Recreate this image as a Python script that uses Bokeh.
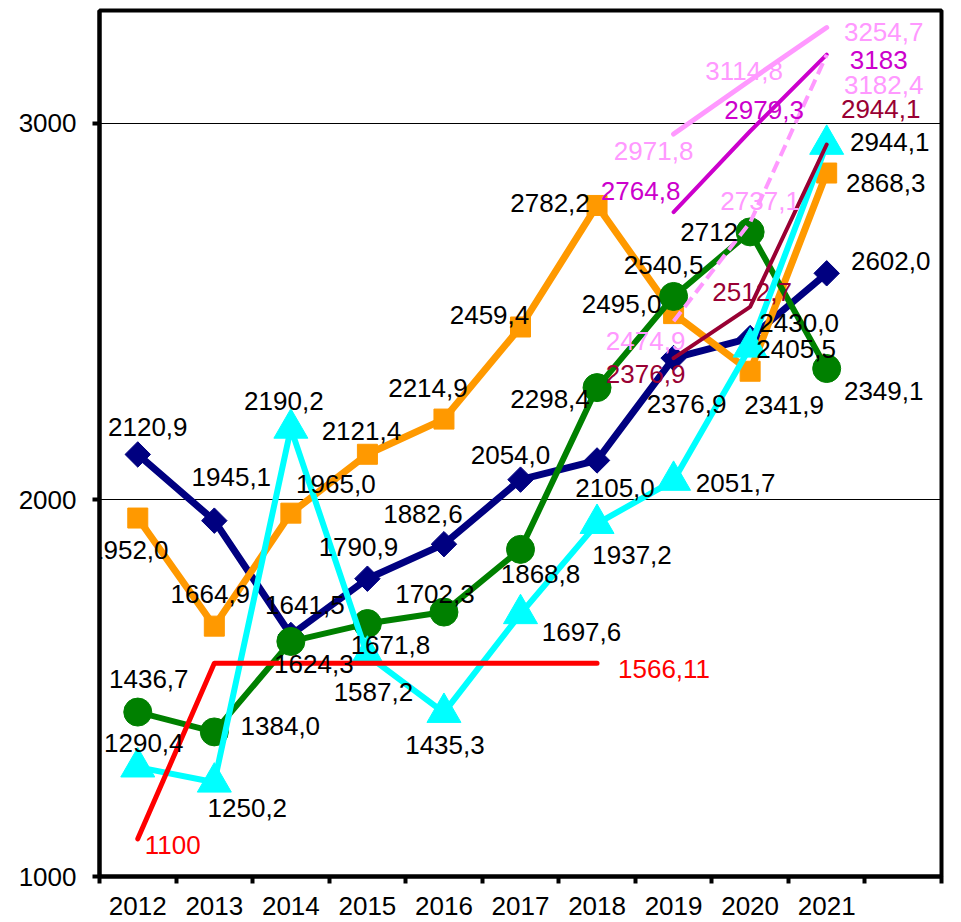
import math
from bokeh.plotting import figure
from bokeh.models import Range1d, FixedTicker, CustomJSTickFormatter, Label
from bokeh.embed import file_html
from bokeh.resources import INLINE

# ---------------- data ----------------
years = ["2012", "2013", "2014", "2015", "2016", "2017", "2018", "2019", "2020", "2021"]
y_ticks = [1000, 2000, 3000]

navy_vals = [2120.9, 1945.1, 1641.5, 1790.9, 1882.6, 2054.0, 2105.0, 2376.9, 2430.0, 2602.0]
navy_labels = ["2120,9", "1945,1", "1641,5", "1790,9", "1882,6", "2054,0", "2105,0", "2376,9", "2430,0", "2602,0"]

orange_vals = [1952.0, 1664.9, 1965.0, 2121.4, 2214.9, 2459.4, 2782.2, 2495.0, 2341.9, 2868.3]
orange_labels = ["1952,0", "1664,9", "1965,0", "2121,4", "2214,9", "2459,4", "2782,2", "2495,0", "2341,9", "2868,3"]

green_vals = [1436.7, 1384.0, 1624.3, 1671.8, 1702.3, 1868.8, 2298.4, 2540.5, 2712.0, 2349.1]
green_labels = ["1436,7", "1384,0", "1624,3", "1671,8", "1702,3", "1868,8", "2298,4", "2540,5", "2712", "2349,1"]

cyan_vals = [1290.4, 1250.2, 2190.2, 1587.2, 1435.3, 1697.6, 1937.2, 2051.7, 2405.5, 2944.1]
cyan_labels = ["1290,4", "1250,2", "2190,2", "1587,2", "1435,3", "1697,6", "1937,2", "2051,7", "2405,5", "2944,1"]

red_years = ["2012", "2013", "2014", "2015", "2016", "2017", "2018"]
red_vals = [1100, 1566.11, 1566.11, 1566.11, 1566.11, 1566.11, 1566.11]
red_labels = ["1100", "", "", "", "", "", "1566,11"]

late_years = ["2019", "2020", "2021"]
maroon_vals = [2376.9, 2512.7, 2944.1]
maroon_labels = ["2376,9", "2512,7", "2944,1"]
magenta_vals = [2764.8, 2979.3, 3183]
magenta_labels = ["2764,8", "2979,3", "3183"]
pink_vals = [2971.8, 3114.8, 3254.7]
pink_labels = ["2971,8", "3114,8", "3254,7"]
pinkdash_vals = [2474.9, 2737.1, 3182.4]
pinkdash_labels = ["2474,9", "2737,1", "3182,4"]

# ---------------- label placement (screen px, y down) ----------------
navy_dx = [10, 17, 14, -9, -21, -10, 18, 13, 49, 64]
navy_dy = [-27, -44, -30, -32, -30, -25, 28, 46, -15, -12]
orange_dx = [-9, -4, 45, -6, -16, -31, -47, -52, 34, 59]
orange_dy = [32, -32, -29, -23, -31, -12, -2, -10, 34, 10]
green_dx = [11, 66, 23, 23, -9, 20, -47, -10, -41, 57]
green_dy = [-33, -6, 23, 21, -18, 25, 11, -31, 0, 22]
cyan_dx = [6, 33, -7, 6, 1, 61, 35, 62, 46, 63]
cyan_dy = [-24, 26, -27, 37, 32, 18, 31, 2, 2, -3]
red_dx = [35, 0, 0, 0, 0, 0, 67]
red_dy = [6, 0, 0, 0, 0, 0, 6]
maroon_dx = [-28, 2, 54]
maroon_dy = [16, -15, -36]
magenta_dx = [-33, 14, 52]
magenta_dy = [-21, -21, 5]
pink_dx = [-20, -6, 57]
pink_dy = [17, -9, 4]
pinkdash_dx = [-28, 10, 57]
pinkdash_dy = [20, -21, 30]

FONT = "Liberation Sans"
FS = "26px"


def xpos(yrs):
    return [years.index(y) + 0.5 for y in yrs]


p = figure(frame_width=842, frame_height=866,
           min_border_left=99, min_border_top=10, min_border_right=12, min_border_bottom=44,
           x_range=Range1d(0, len(years) + 1), y_range=Range1d(1000, 3300),
           output_backend="svg", toolbar_location=None,
           background_fill_color="white", border_fill_color="white")
p.outline_line_color = "black"
p.outline_line_width = 4

# x axis: labels centred in categories, ticks on boundaries
xa = p.xaxis[0]
xa.ticker = FixedTicker(ticks=[i + 0.5 for i in range(len(years))],
                        minor_ticks=list(range(len(years) + 2)))
xa.formatter = CustomJSTickFormatter(args=dict(years=years),
                                     code="return years[Math.round(tick - 0.5)];")
xa.major_tick_line_color = None
xa.major_tick_out = 7
xa.major_tick_in = 0
xa.minor_tick_line_color = "black"
xa.minor_tick_line_width = 4
xa.minor_tick_out = 7
xa.minor_tick_in = 0
xa.axis_line_width = 4
xa.major_label_text_font = FONT
xa.major_label_text_font_size = FS
xa.major_label_text_color = "black"
xa.major_label_standoff = 13

ya = p.yaxis[0]
ya.ticker = FixedTicker(ticks=y_ticks, minor_ticks=[])
ya.major_tick_line_width = 4
ya.major_tick_out = 7
ya.major_tick_in = 0
ya.axis_line_width = 4
ya.major_label_text_font = FONT
ya.major_label_text_font_size = FS
ya.major_label_text_color = "black"
ya.major_label_standoff = 16

p.xgrid.visible = False
p.ygrid.ticker = FixedTicker(ticks=y_ticks, minor_ticks=[])
p.ygrid.grid_line_color = "black"
p.ygrid.grid_line_width = 1

# ---------------- series ----------------
xs_all = xpos(years)

p.line(xs_all, navy_vals, line_color="#000080", line_width=7, line_join="round")
p.scatter(xs_all, navy_vals, marker="square", angle=math.pi / 4, size=18, color="#000080")

p.line(xs_all, orange_vals, line_color="#FF9900", line_width=7, line_join="round")
p.scatter(xs_all, orange_vals, marker="square", size=20, color="#FF9900")

p.line(xs_all, green_vals, line_color="#008000", line_width=6, line_join="round")
p.scatter(xs_all, green_vals, marker="circle", size=28, color="#008000")

p.line(xs_all, cyan_vals, line_color="#00FFFF", line_width=6, line_join="round")
p.scatter(xs_all, cyan_vals, marker="triangle", size=34, color="#00FFFF")

p.line(xpos(red_years), red_vals, line_color="#FF0000", line_width=5, line_join="round", line_cap="round")

xl = xpos(late_years)
p.line(xl, maroon_vals, line_color="#990033", line_width=4, line_cap="round")
p.line(xl, magenta_vals, line_color="#CC00CC", line_width=4, line_cap="round")
p.line(xl, pink_vals, line_color="#FF99FF", line_width=5, line_cap="round")
p.line(xl, pinkdash_vals, line_color="#FF99FF", line_width=4, line_dash="12 6")

# ---------------- labels ----------------
def add_labels(yrs, vals, labels, dx, dy, color):
    for xv, yv, t, ox, oy in zip(xpos(yrs), vals, labels, dx, dy):
        if not t:
            continue
        p.add_layout(Label(x=xv, y=yv, text=t, x_offset=ox, y_offset=-oy,
                           text_font=FONT, text_font_size=FS, text_color=color,
                           text_align="center", text_baseline="middle"))


add_labels(years, navy_vals, navy_labels, navy_dx, navy_dy, "black")
add_labels(years, orange_vals, orange_labels, orange_dx, orange_dy, "black")
add_labels(years, green_vals, green_labels, green_dx, green_dy, "black")
add_labels(years, cyan_vals, cyan_labels, cyan_dx, cyan_dy, "black")
add_labels(red_years, red_vals, red_labels, red_dx, red_dy, "#FF0000")
add_labels(late_years, maroon_vals, maroon_labels, maroon_dx, maroon_dy, "#990033")
add_labels(late_years, magenta_vals, magenta_labels, magenta_dx, magenta_dy, "#CC00CC")
add_labels(late_years, pink_vals, pink_labels, pink_dx, pink_dy, "#FF99FF")
add_labels(late_years, pinkdash_vals, pinkdash_labels, pinkdash_dx, pinkdash_dy, "#FF99FF")

open("out.html", "w").write(file_html(p, INLINE))
